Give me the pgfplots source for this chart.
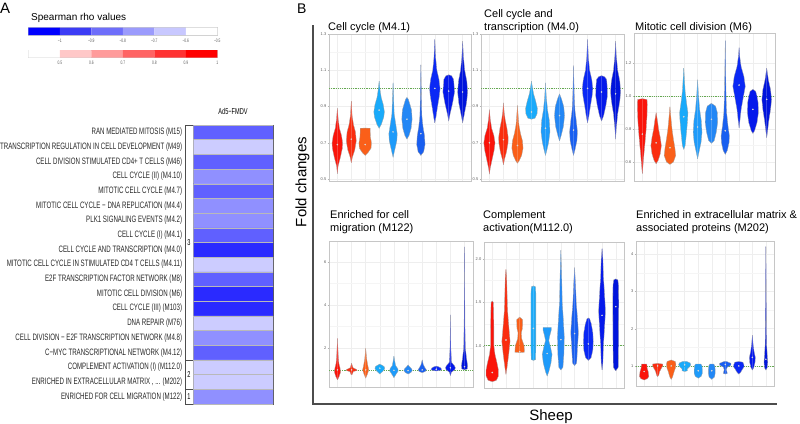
\documentclass[border=0pt]{standalone}
\usepackage{pgfplots}
\pgfplotsset{compat=1.18}
\usepackage{fontspec}
\setmainfont{Liberation Sans}
\newfontfamily\condfont{Liberation Sans}[FakeStretch=0.66]

\definecolor{c1}{RGB}{250,20,10}
\definecolor{c2}{RGB}{250,45,15}
\definecolor{c3}{RGB}{250,95,25}
\definecolor{c4}{RGB}{25,170,250}
\definecolor{c5}{RGB}{30,155,250}
\definecolor{c6}{RGB}{35,135,245}
\definecolor{c7}{RGB}{25,95,240}
\definecolor{c8}{RGB}{10,40,245}
\definecolor{c9}{RGB}{5,25,235}
\definecolor{c10}{RGB}{0,20,220}
\definecolor{h1}{RGB}{42,42,255}
\definecolor{h2}{RGB}{96,96,255}
\definecolor{h3}{RGB}{144,144,255}
\definecolor{h4}{RGB}{204,204,255}
\definecolor{refgreen}{RGB}{100,170,80}
\definecolor{meddot}{RGB}{215,215,215}

\newcommand{\vio}[3]{%
\addplot[fill=#2, draw=gray!70, line width=0.3pt] table[row sep=\\, x expr=#1+\thisrow{w}, y=y] {#3};
\addplot[fill=#2, draw=gray!70, line width=0.3pt] table[row sep=\\, x expr=#1-\thisrow{w}, y=y] {#3};}

\pgfplotsset{
 vpanel/.style={scale only axis, anchor=north west, xmin=0.4, xmax=10.6,
  xtick={1,...,10}, xticklabels=\empty, xmajorgrids, ymajorgrids, yminorgrids, minor y tick num=1,
  grid style={gray!13, line width=0.5pt}, minor grid style={gray!8, line width=0.4pt},
  axis line style={gray!45, line width=0.6pt}, ytick pos=left, xtick style={draw=none},
  ytick style={gray!60, line width=0.3pt}, major tick length=1.5pt, minor tick length=0pt, tick align=outside,
  yticklabel style={font=\fontsize{4}{4}\selectfont, text=gray!70!black, inner sep=1pt},
  /pgf/number format/assume math mode=true, /pgf/number format/fixed, /pgf/number format/fixed zerofill,
  /pgf/number format/precision=1, clip=true},
 cbar/.style={scale only axis, anchor=north west, width=189pt, height=7.5pt, xmin=0, xmax=6, ymin=0, ymax=1,
  ytick=\empty, xtick={1,...,6}, axis line style={gray!40, line width=0.8pt}, major tick length=0pt,
  xticklabel style={font=\condfont\fontsize{5}{5}\selectfont, text=gray!70!black, inner sep=0pt, yshift=-3.5pt}}
}
\newcommand{\medians}[1]{\addplot[only marks, color=meddot, mark=*, mark size=0.55pt, mark options={draw=meddot, fill=meddot}] coordinates {#1};}
\newcommand{\refline}{\addplot[refgreen, line width=0.5pt, dash pattern=on 1.2pt off 1pt] coordinates {(0.4,1)(10.6,1)};}

\begin{document}
\begin{tikzpicture}[x=1pt,y=1pt]
\useasboundingbox (0,0) rectangle (800,-423);

% ---------------- Panel A ----------------
\node[anchor=north west, inner sep=0, font=\fontsize{15}{15}\selectfont] at (0,-3) {A};
\node[anchor=base west, inner sep=0, font=\fontsize{10}{10}\selectfont] at (31,-20.5) {Spearman rho values};

\begin{axis}[cbar, at={(28.3pt,-27.7pt)}, xticklabels={−1,−0.9,−0.8,−0.7,−0.6,−0.5}]
\addplot[fill=blue, draw=none] coordinates {(0,0)(1,0)(1,1)(0,1)(0,0)};
\addplot[fill={rgb,255:red,60;green,60;blue,245}, draw=none] coordinates {(1,0)(2,0)(2,1)(1,1)(1,0)};
\addplot[fill={rgb,255:red,110;green,110;blue,250}, draw=none] coordinates {(2,0)(3,0)(3,1)(2,1)(2,0)};
\addplot[fill={rgb,255:red,155;green,155;blue,252}, draw=none] coordinates {(3,0)(4,0)(4,1)(3,1)(3,0)};
\addplot[fill={rgb,255:red,200;green,200;blue,255}, draw=none] coordinates {(4,0)(5,0)(5,1)(4,1)(4,0)};
\addplot[fill=white, draw=none] coordinates {(5,0)(6,0)(6,1)(5,1)(5,0)};
\end{axis}
\begin{axis}[cbar, at={(28.3pt,-50pt)}, xticklabels={0.5,0.6,0.7,0.8,0.9,1}]
\addplot[fill=white, draw=none] coordinates {(0,0)(1,0)(1,1)(0,1)(0,0)};
\addplot[fill={rgb,255:red,255;green,200;blue,200}, draw=none] coordinates {(1,0)(2,0)(2,1)(1,1)(1,0)};
\addplot[fill={rgb,255:red,255;green,155;blue,155}, draw=none] coordinates {(2,0)(3,0)(3,1)(2,1)(2,0)};
\addplot[fill={rgb,255:red,255;green,100;blue,100}, draw=none] coordinates {(3,0)(4,0)(4,1)(3,1)(3,0)};
\addplot[fill={rgb,255:red,255;green,50;blue,50}, draw=none] coordinates {(4,0)(5,0)(5,1)(4,1)(4,0)};
\addplot[fill={rgb,255:red,255;green,0;blue,0}, draw=none] coordinates {(5,0)(6,0)(6,1)(5,1)(5,0)};
\end{axis}

\node[font=\condfont\fontsize{8.5}{8.5}\selectfont] at (233,-111.5) {Ad5−FMDV};

\begin{axis}[scale only axis, anchor=north west, at={(193.3pt,-125pt)}, width=79.7pt, height=279pt,
  xmin=0, xmax=1, ymin=0, ymax=19, y dir=reverse, xtick=\empty,
  ytick={0.5,1.5,...,18.5}, major tick length=0pt, axis line style={gray!60!black, line width=0.6pt},
  yticklabel style={font=\condfont\fontsize{9.3}{9.3}\selectfont, inner sep=0pt, xshift=-11pt, text=black!85},
  yticklabels={RAN MEDIATED MITOSIS (M15), TRANSCRIPTION REGULATION IN CELL DEVELOPMENT (M49),
   CELL DIVISION STIMULATED CD4+ T CELLS (M46), CELL CYCLE (II) (M4.10), MITOTIC CELL CYCLE (M4.7),
   MITOTIC CELL CYCLE − DNA REPLICATION (M4.4), PLK1 SIGNALING EVENTS (M4.2), CELL CYCLE (I) (M4.1),
   CELL CYCLE AND TRANSCRIPTION (M4.0), MITOTIC CELL CYCLE IN STIMULATED CD4 T CELLS (M4.11),
   E2F TRANSCRIPTION FACTOR NETWORK (M8), MITOTIC CELL DIVISION (M6), CELL CYCLE (III) (M103),
   DNA REPAIR (M76), CELL DIVISION − E2F TRANSCRIPTION NETWORK (M4.8), C−MYC TRANSCRIPTIONAL NETWORK (M4.12),
   COMPLEMENT ACTIVATION (I) (M112.0), {ENRICHED IN EXTRACELLULAR MATRIX , .{}.{}. (M202)}, ENRICHED FOR CELL MIGRATION (M122)}]
\addplot[fill=h2, draw=gray!55] coordinates {(0,0)(1,0)(1,1)(0,1)(0,0)};
\addplot[fill=h4, draw=gray!55] coordinates {(0,1)(1,1)(1,2)(0,2)(0,1)};
\addplot[fill=h2, draw=gray!55] coordinates {(0,2)(1,2)(1,3)(0,3)(0,2)};
\addplot[fill=h3, draw=gray!55] coordinates {(0,3)(1,3)(1,4)(0,4)(0,3)};
\addplot[fill=h2, draw=gray!55] coordinates {(0,4)(1,4)(1,5)(0,5)(0,4)};
\addplot[fill=h3, draw=gray!55] coordinates {(0,5)(1,5)(1,6)(0,6)(0,5)};
\addplot[fill=h3, draw=gray!55] coordinates {(0,6)(1,6)(1,7)(0,7)(0,6)};
\addplot[fill=h2, draw=gray!55] coordinates {(0,7)(1,7)(1,8)(0,8)(0,7)};
\addplot[fill=h1, draw=gray!55] coordinates {(0,8)(1,8)(1,9)(0,9)(0,8)};
\addplot[fill=h4, draw=gray!55] coordinates {(0,9)(1,9)(1,10)(0,10)(0,9)};
\addplot[fill=h2, draw=gray!55] coordinates {(0,10)(1,10)(1,11)(0,11)(0,10)};
\addplot[fill=h1, draw=gray!55] coordinates {(0,11)(1,11)(1,12)(0,12)(0,11)};
\addplot[fill=h1, draw=gray!55] coordinates {(0,12)(1,12)(1,13)(0,13)(0,12)};
\addplot[fill=h4, draw=gray!55] coordinates {(0,13)(1,13)(1,14)(0,14)(0,13)};
\addplot[fill=h3, draw=gray!55] coordinates {(0,14)(1,14)(1,15)(0,15)(0,14)};
\addplot[fill=h2, draw=gray!55] coordinates {(0,15)(1,15)(1,16)(0,16)(0,15)};
\addplot[fill=h4, draw=gray!55] coordinates {(0,16)(1,16)(1,17)(0,17)(0,16)};
\addplot[fill=h4, draw=gray!55] coordinates {(0,17)(1,17)(1,18)(0,18)(0,17)};
\addplot[fill=h3, draw=gray!55] coordinates {(0,18)(1,18)(1,19)(0,19)(0,18)};
\end{axis}
% cluster column
\draw[gray!60!black, line width=0.6pt] (185,-125) -- (185,-404) -- (193.3,-404);
\draw[gray!60!black, line width=0.6pt] (185,-125) -- (193.3,-125);
\draw[gray!60!black, line width=0.6pt] (185,-360.6) -- (193.3,-360.6);
\draw[gray!60!black, line width=0.6pt] (185,-389.7) -- (193.3,-389.7);
\node[font=\condfont\fontsize{8.5}{8.5}\selectfont] at (189,-243) {3};
\node[font=\condfont\fontsize{8.5}{8.5}\selectfont] at (189,-375) {2};
\node[font=\condfont\fontsize{8.5}{8.5}\selectfont] at (189,-397) {1};

% ---------------- Panel B ----------------
\node[anchor=north west, inner sep=0, font=\fontsize{14}{14}\selectfont] at (297,-3.3) {B};
\draw[gray!60!black, line width=2pt] (312.5,-25) -- (312.5,-403.5) -- (777,-403.5);
\node[rotate=90, font=\fontsize{15}{15}\selectfont] at (302.5,-182) {Fold changes};
\node[anchor=base, font=\fontsize{15}{15}\selectfont] at (551,-420) {Sheep};

\begin{scope}[every node/.style={anchor=base west, inner sep=0, font=\fontsize{11}{11}\selectfont}]
\node at (328,-30) {Cell cycle (M4.1)};
\node at (484,-17) {Cell cycle and};
\node at (484,-30) {transcription (M4.0)};
\node at (635,-30) {Mitotic cell division (M6)};
\node at (330,-218) {Enriched for cell};
\node at (330,-231) {migration (M122)};
\node at (483,-218) {Complement};
\node at (483,-231) {activation(M112.0)};
\node at (636,-218) {Enriched in extracellular matrix \&};
\node at (636,-231) {associated proteins (M202)};
\end{scope}

% Panel 1: Cell cycle (M4.1)
\begin{axis}[vpanel, at={(329pt,-34pt)}, width=142pt, height=147pt, ymin=0.489, ymax=1.3, ytick={0.5,0.7,...,1.3}]
\refline
\vio{1}{c1}{y w\\0.53 0\\0.57 0.05\\0.62 0.22\\0.67 0.36\\0.70 0.38\\0.74 0.30\\0.78 0.15\\0.83 0.06\\0.89 0\\}
\vio{2}{c2}{y w\\0.59 0\\0.62 0.08\\0.66 0.25\\0.71 0.36\\0.76 0.30\\0.80 0.16\\0.85 0.06\\0.93 0\\}
\vio{3}{c3}{y w\\0.63 0\\0.645 0.20\\0.67 0.42\\0.70 0.45\\0.73 0.38\\0.76 0.36\\0.78 0.36\\0.781 0\\}
\vio{4}{c4}{y w\\0.78 0\\0.80 0.15\\0.84 0.33\\0.87 0.38\\0.91 0.30\\0.95 0.15\\0.99 0.07\\1.04 0\\}
\vio{5}{c5}{y w\\0.62 0\\0.66 0.12\\0.71 0.27\\0.75 0.30\\0.80 0.20\\0.86 0.08\\0.95 0.04\\1.03 0\\}
\vio{6}{c6}{y w\\0.72 0\\0.74 0.15\\0.78 0.30\\0.83 0.37\\0.88 0.33\\0.91 0.22\\0.94 0.10\\0.95 0\\}
\vio{7}{c7}{y w\\0.63 0\\0.65 0.20\\0.69 0.30\\0.74 0.26\\0.79 0.15\\0.85 0.07\\0.95 0.04\\1.13 0\\}
\vio{8}{c8}{y w\\0.81 0\\0.84 0.08\\0.90 0.20\\0.96 0.33\\1.00 0.38\\1.05 0.30\\1.10 0.15\\1.17 0.06\\1.27 0\\}
\vio{9}{c9}{y w\\0.82 0\\0.86 0.10\\0.92 0.28\\0.98 0.42\\1.02 0.38\\1.05 0.35\\1.07 0.20\\1.075 0\\}
\vio{10}{c10}{y w\\0.81 0\\0.85 0.10\\0.92 0.28\\0.98 0.36\\1.04 0.30\\1.10 0.15\\1.17 0.06\\1.26 0\\}
\medians{(1,0.69)(2,0.72)(3,0.69)(4,0.88)(5,0.76)(6,0.83)(7,0.75)(8,1.00)(9,0.985)(10,0.98)}
\end{axis}

% Panel 2: Cell cycle and transcription (M4.0)
\begin{axis}[vpanel, at={(481pt,-34pt)}, width=143pt, height=147pt, ymin=0.489, ymax=1.3, ytick={0.5,0.7,...,1.3}]
\refline
\vio{1}{c1}{y w\\0.527 0\\0.56 0.06\\0.61 0.20\\0.66 0.34\\0.70 0.40\\0.74 0.32\\0.78 0.16\\0.83 0.06\\0.883 0\\}
\vio{2}{c2}{y w\\0.578 0\\0.61 0.08\\0.65 0.22\\0.70 0.33\\0.73 0.34\\0.78 0.25\\0.83 0.12\\0.87 0.05\\0.92 0\\}
\vio{3}{c3}{y w\\0.587 0\\0.60 0.12\\0.63 0.30\\0.67 0.40\\0.71 0.36\\0.75 0.22\\0.80 0.10\\0.85 0.05\\0.906 0\\}
\vio{4}{c4}{y w\\0.83 0\\0.835 0.25\\0.86 0.40\\0.89 0.42\\0.93 0.30\\0.97 0.15\\1.00 0.08\\1.04 0\\}
\vio{5}{c5}{y w\\0.63 0\\0.66 0.10\\0.70 0.22\\0.76 0.32\\0.82 0.28\\0.88 0.15\\0.95 0.06\\1.03 0\\}
\vio{6}{c6}{y w\\0.71 0\\0.74 0.12\\0.79 0.28\\0.85 0.36\\0.90 0.30\\0.94 0.15\\0.97 0\\}
\vio{7}{c7}{y w\\0.63 0\\0.66 0.10\\0.71 0.24\\0.76 0.28\\0.82 0.20\\0.88 0.10\\0.97 0.05\\1.125 0\\}
\vio{8}{c8}{y w\\0.81 0\\0.84 0.08\\0.90 0.20\\0.96 0.33\\1.00 0.38\\1.05 0.30\\1.10 0.15\\1.17 0.06\\1.27 0\\}
\vio{9}{c9}{y w\\0.82 0\\0.85 0.15\\0.91 0.32\\0.96 0.42\\1.01 0.40\\1.05 0.36\\1.065 0.20\\1.07 0\\}
\vio{10}{c10}{y w\\0.72 0\\0.78 0.05\\0.86 0.15\\0.93 0.30\\0.98 0.36\\1.04 0.30\\1.10 0.15\\1.18 0.05\\1.26 0\\}
\medians{(1,0.70)(2,0.717)(3,0.685)(4,0.87)(5,0.78)(6,0.85)(7,0.77)(8,1.00)(9,0.98)(10,0.97)}
\end{axis}

% Panel 3: Mitotic cell division (M6)
\begin{axis}[vpanel, at={(634pt,-33pt)}, width=141pt, height=148pt, ymin=0.485, ymax=1.384, ytick={0.6,0.8,...,1.21}]
\refline
\vio{1}{c1}{y w\\0.53 0\\0.58 0.05\\0.65 0.12\\0.72 0.20\\0.80 0.28\\0.88 0.34\\0.95 0.36\\0.98 0.34\\0.985 0\\}
\vio{2}{c2}{y w\\0.59 0\\0.61 0.15\\0.65 0.30\\0.70 0.38\\0.75 0.30\\0.80 0.18\\0.85 0.10\\0.90 0\\}
\vio{3}{c3}{y w\\0.586 0\\0.60 0.25\\0.64 0.42\\0.69 0.35\\0.74 0.25\\0.80 0.15\\0.87 0.07\\0.936 0\\}
\vio{4}{c4}{y w\\0.677 0\\0.70 0.10\\0.78 0.20\\0.86 0.28\\0.90 0.30\\0.96 0.20\\1.03 0.10\\1.10 0.05\\1.17 0\\}
\vio{5}{c5}{y w\\0.62 0\\0.66 0.10\\0.72 0.25\\0.78 0.32\\0.85 0.27\\0.92 0.15\\1.00 0.07\\1.10 0\\}
\vio{6}{c6}{y w\\0.714 0\\0.73 0.20\\0.78 0.35\\0.84 0.45\\0.90 0.43\\0.94 0.30\\0.957 0\\}
\vio{7}{c7}{y w\\0.647 0\\0.67 0.15\\0.72 0.28\\0.76 0.30\\0.82 0.20\\0.90 0.10\\1.00 0.06\\1.15 0.03\\1.337 0\\}
\vio{8}{c8}{y w\\0.808 0\\0.85 0.06\\0.92 0.15\\1.00 0.32\\1.06 0.45\\1.12 0.35\\1.18 0.15\\1.24 0.05\\1.295 0\\}
\vio{9}{c9}{y w\\0.774 0\\0.79 0.12\\0.84 0.30\\0.90 0.40\\0.96 0.38\\1.00 0.30\\1.03 0.20\\1.042 0\\}
\vio{10}{c10}{y w\\0.748 0\\0.78 0.05\\0.85 0.15\\0.92 0.28\\0.98 0.35\\1.04 0.28\\1.10 0.12\\1.17 0\\}
\medians{(1,0.77)(2,0.717)(3,0.687)(4,0.875)(5,0.813)(6,0.86)(7,0.79)(8,1.068)(9,0.92)(10,0.981)}
\end{axis}

% Panel 4: Enriched for cell migration (M122)
\begin{axis}[vpanel, at={(329pt,-241pt)}, width=144pt, height=146pt, ymin=0.21, ymax=6.96, ytick={2,4,6},
  /pgf/number format/precision=0]
\refline
\vio{1}{c1}{y w\\0.54 0\\0.70 0.12\\0.90 0.22\\1.10 0.18\\1.30 0.10\\1.60 0.06\\2.00 0.03\\2.46 0\\}
\vio{2}{c2}{y w\\0.77 0\\0.80 0.05\\0.92 0.12\\0.98 0.40\\1.02 0.35\\1.10 0.10\\1.20 0.05\\1.31 0\\}
\vio{3}{c3}{y w\\0.62 0\\0.80 0.12\\1.00 0.22\\1.20 0.15\\1.50 0.07\\2.00 0\\}
\vio{4}{c4}{y w\\0.81 0\\0.90 0.15\\1.00 0.30\\1.08 0.35\\1.16 0.30\\1.22 0.15\\1.27 0\\}
\vio{5}{c5}{y w\\0.64 0\\0.80 0.15\\0.95 0.30\\1.05 0.28\\1.20 0.12\\1.40 0.06\\1.64 0\\}
\vio{6}{c6}{y w\\0.81 0\\0.88 0.20\\0.97 0.30\\1.05 0.25\\1.15 0.10\\1.23 0\\}
\vio{7}{c7}{y w\\0.87 0\\0.93 0.22\\1.00 0.30\\1.10 0.20\\1.25 0.08\\1.46 0\\}
\vio{8}{c8}{y w\\0.95 0\\0.98 0.30\\1.03 0.38\\1.10 0.30\\1.15 0.15\\1.18 0\\}
\vio{9}{c9}{y w\\0.74 0\\0.90 0.08\\1.00 0.30\\1.10 0.35\\1.20 0.28\\1.35 0.08\\2.00 0.03\\3.54 0\\}
\vio{10}{c10}{y w\\1.00 0\\1.05 0.20\\1.20 0.22\\1.50 0.15\\2.00 0.06\\3.00 0.03\\6.69 0\\}
\medians{(1,1.0)(2,1.0)(3,1.0)(4,1.08)(5,0.98)(6,0.97)(7,1.0)(8,1.03)(9,1.1)(10,1.15)}
\end{axis}

% Panel 5: Complement activation (M112.0)
\begin{axis}[vpanel, at={(484pt,-242pt)}, width=140pt, height=146pt, ymin=0.512, ymax=2.196, ytick={1.0,1.5,2.0}]
\refline
\vio{1}{c1}{y w\\0.585 0\\0.60 0.30\\0.65 0.45\\0.72 0.45\\0.80 0.35\\0.90 0.20\\1.00 0.12\\1.20 0.12\\1.40 0.10\\1.50 0.08\\1.515 0\\}
\vio{2}{c2}{y w\\0.67 0\\0.75 0.08\\0.90 0.20\\1.05 0.30\\1.20 0.22\\1.40 0.12\\1.60 0.08\\1.80 0.05\\1.88 0\\}
\vio{3}{c3}{y w\\0.92 0\\0.925 0.35\\1.00 0.32\\1.08 0.15\\1.15 0.12\\1.20 0.20\\1.30 0.22\\1.33 0\\}
\vio{4}{c4}{y w\\0.83 0\\0.84 0.16\\1.00 0.18\\1.30 0.18\\1.60 0.18\\1.68 0.15\\1.69 0\\}
\vio{5}{c5}{y w\\0.65 0\\0.70 0.12\\0.80 0.28\\0.90 0.36\\0.98 0.25\\1.06 0.12\\1.12 0.20\\1.18 0.30\\1.21 0.30\\1.211 0\\}
\vio{6}{c6}{y w\\0.72 0\\0.75 0.15\\0.90 0.22\\1.10 0.25\\1.30 0.18\\1.50 0.10\\1.80 0.06\\2.10 0\\}
\vio{7}{c7}{y w\\0.77 0\\0.80 0.15\\1.00 0.22\\1.15 0.28\\1.30 0.22\\1.50 0.12\\1.70 0.07\\1.90 0\\}
\vio{8}{c8}{y w\\0.83 0\\0.86 0.20\\0.95 0.33\\1.05 0.36\\1.15 0.33\\1.25 0.22\\1.31 0.10\\1.32 0\\}
\vio{9}{c9}{y w\\0.72 0\\0.80 0.06\\1.00 0.10\\1.20 0.18\\1.40 0.25\\1.60 0.18\\1.80 0.10\\2.00 0.06\\2.12 0\\}
\vio{10}{c10}{y w\\0.71 0\\0.75 0.18\\1.00 0.20\\1.30 0.21\\1.50 0.22\\1.70 0.20\\1.76 0.15\\1.77 0\\}
\medians{(1,0.69)(2,1.066)(3,0.93)(4,1.2)(5,0.91)(6,1.07)(7,1.14)(8,1.02)(9,1.35)(10,1.45)}
\end{axis}

% Panel 6: Enriched in extracellular matrix (M202)
\begin{axis}[vpanel, at={(636pt,-241pt)}, width=138pt, height=145pt, ymin=0.46, ymax=4.36, ytick={1,2,3,4},
  /pgf/number format/precision=0]
\refline
\vio{1}{c1}{y w\\0.62 0\\0.66 0.25\\0.72 0.35\\0.85 0.30\\0.95 0.22\\1.05 0.20\\1.051 0\\}
\vio{2}{c2}{y w\\0.71 0\\0.75 0.08\\0.85 0.15\\0.95 0.30\\1.00 0.38\\1.05 0.38\\1.07 0\\}
\vio{3}{c3}{y w\\0.64 0\\0.70 0.10\\0.85 0.22\\0.95 0.32\\1.05 0.35\\1.12 0.30\\1.16 0\\}
\vio{4}{c4}{y w\\0.85 0\\0.87 0.20\\0.92 0.20\\0.97 0.35\\1.03 0.45\\1.08 0.40\\1.12 0.15\\1.121 0\\}
\vio{5}{c5}{y w\\0.67 0\\0.72 0.22\\0.80 0.30\\0.90 0.30\\1.00 0.28\\1.05 0.20\\1.051 0\\}
\vio{6}{c6}{y w\\0.64 0\\0.70 0.20\\0.80 0.25\\0.90 0.25\\1.00 0.22\\1.05 0.15\\1.051 0\\}
\vio{7}{c7}{y w\\0.78 0\\0.80 0.15\\0.90 0.08\\0.97 0.15\\1.02 0.42\\1.07 0.42\\1.12 0.10\\1.121 0\\}
\vio{8}{c8}{y w\\0.78 0\\0.82 0.12\\0.90 0.25\\0.97 0.38\\1.03 0.38\\1.10 0.30\\1.12 0\\}
\vio{9}{c9}{y w\\0.89 0\\0.95 0.10\\1.10 0.20\\1.23 0.22\\1.40 0.12\\1.60 0.05\\1.83 0\\}
\vio{10}{c10}{y w\\0.89 0\\0.95 0.10\\1.10 0.14\\1.30 0.10\\1.60 0.05\\2.50 0.03\\4.21 0\\}
\medians{(1,0.85)(2,1.0)(3,1.0)(4,1.03)(5,0.87)(6,0.87)(7,1.04)(8,1.0)(9,1.23)(10,1.18)}
\end{axis}
\end{tikzpicture}
\end{document}
